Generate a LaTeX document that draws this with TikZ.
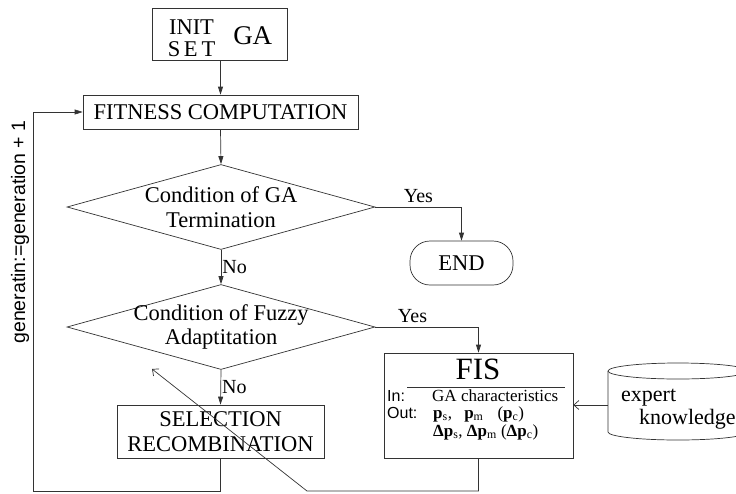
\documentclass[tikz,border=0pt]{standalone}
\usepackage{fontspec}
\setmainfont{Liberation Serif}
\newfontfamily\arialfont{Liberation Sans}
\usetikzlibrary{shapes.geometric, arrows.meta}

\begin{document}
\begin{tikzpicture}[x=1pt, y=-1pt,
    line/.style={draw=black!80, line width=0.7pt},
    flow/.style={line, -{Triangle[length=8pt,width=5pt]}},
    hint/.style={line, -{Straight Barb[length=5pt,width=9pt]}},
    block/.style={rectangle, draw=black!80, line width=0.7pt, inner sep=0pt,
      align=center, font=\fontsize{22.5}{24.5}\selectfont},
    decision/.style={diamond, draw=black!80, line width=0.7pt, inner sep=-8pt,
      aspect=3.6, minimum width=308pt, minimum height=85pt, align=center,
      font=\fontsize{22.5}{24.5}\selectfont},
    lbl/.style={font=\fontsize{20}{20}\selectfont, inner sep=1pt},
    fistext/.style={anchor=west, inner sep=0pt, text height=11pt, text depth=3pt,
      font=\fontsize{17}{17}\selectfont},
    sanstext/.style={fistext, font=\arialfont\fontsize{16}{16}\selectfont}]
    \useasboundingbox (0,0) rectangle (736,493);
    \clip (0,0) rectangle (736,493);

    % main column
    \node[block, minimum width=135pt, minimum height=52pt] (init) at (220,34)
      {\raisebox{-12pt}[0pt][0pt]{\begin{tabular}{@{}c@{}}INIT\\[-3pt]S\,E\,T\end{tabular}\hspace{18pt}\raisebox{2pt}{\fontsize{27}{27}\selectfont GA}}};
    \node[block, minimum width=275pt, minimum height=34pt] (fit) at (220.5,112) {FITNESS COMPUTATION};
    \node[decision] (term) at (221,207) {Condition of GA\\Termination};
    \node[block, rounded corners=20pt, minimum width=103pt, minimum height=44pt] (end) at (461.5,263) {END};
    \node[decision] (adapt) at (221,327) {Condition of Fuzzy\\Adaptitation};
    \node[block, minimum width=207pt, minimum height=53pt] (sel) at (220.5,431.5) {SELECTION\\RECOMBINATION};

    % fuzzy inference system
    \node[block, minimum width=189pt, minimum height=105pt] (fis) at (478.5,405.5) {};
    \node[font=\fontsize{31}{31}\selectfont, inner sep=0pt] (fistitle) at (478,369) {FIS};
    \draw[line] (407,387) -- (565,387);
    \node[sanstext] (inlbl) at (387,397) {In:};
    \node[fistext] (intxt) at (432,397) {GA characteristics};
    \node[sanstext] (outlbl) at (387,414) {Out:};
    \node[fistext] (outtxt) at (433,414)
      {\textbf{p}\textsubscript{s}, \hspace{8pt}\textbf{p}\textsubscript{m}\hspace{14pt}(\textbf{p}\textsubscript{c})};
    \node[fistext] (deltxt) at (433,432)
      {\textbf{Δp}\textsubscript{s}, \textbf{Δp}\textsubscript{m} (\textbf{Δp}\textsubscript{c})};

    % knowledge base
    \draw[line] (608,371) -- (608,432) arc[start angle=180, end angle=0, x radius=70, y radius=8] -- (748,371);
    \draw[line] (678,371) ellipse[x radius=70, y radius=8];
    \coordinate (kb) at (608,405);
    \node[anchor=west, align=left, inner sep=0pt, font=\fontsize{22}{23}\selectfont] (kbtxt) at (621,409)
      {expert\\\hspace*{18pt}knowledge};

    % connectors
    \draw[flow] (init.south -| fit.north) -- (fit.north);
    \draw[flow] (fit.south) -- (term.north);
    \draw[flow] (term.east) -| node[lbl, pos=0.25, above=3pt] {Yes} (end.north);
    \draw[flow] (term.south) -- node[lbl, right] {No} (adapt.north);
    \draw[flow] (adapt.east) -| node[lbl, pos=0.18, above=3pt] {Yes} (fis.north);
    \draw[flow] (adapt.south) -- node[lbl, right] {No} (sel.north);
    \draw[flow] (sel.south) |- (33,491) |- (fit.west);
    \node[rotate=90, inner sep=0pt, font=\arialfont\fontsize{19.5}{19.5}\selectfont] (genlbl) at (20,232)
      {generatin:=generation + 1};
    \coordinate (hintend) at (152,369);
    \draw[hint] (fis.south) |- (307,491) -- (hintend);
    \draw[hint] (kb) -- (kb -| fis.east);

\end{tikzpicture}
\end{document}
